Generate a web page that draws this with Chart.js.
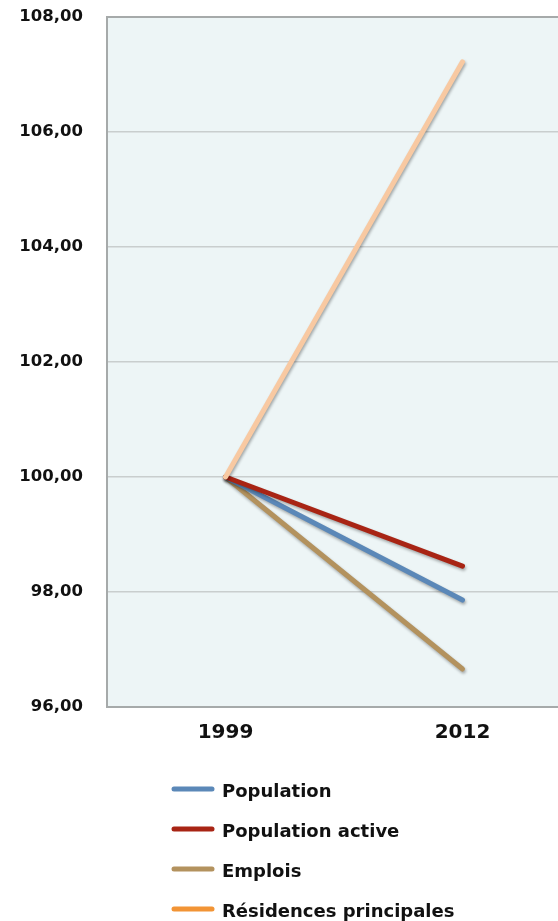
<!DOCTYPE html>
<html>
<head>
<meta charset="utf-8">
<script src="https://cdn.jsdelivr.net/npm/chart.js@4"></script>
<style>
  html, body { margin: 0; padding: 0; background: #ffffff; overflow: hidden; }
  #wrap { width: 558px; height: 921px; overflow: hidden; position: relative; }
  canvas { display: block; }
</style>
</head>
<body>
<div id="wrap"><canvas id="c" width="590" height="921"></canvas></div>
<script>
// ---- data ----
const categories = ['1999', '2012'];
const seriesNames = ['Population', 'Population active', 'Emplois', 'Résidences principales'];
const population = [100, 97.86];
const populationActive = [100, 98.45];
const emplois = [100, 96.66];
const residences = [100, 107.22];
const yMin = 96, yMax = 108, yStep = 2;

// ---- styles ----
const lineColors = ['#5b88b8', '#a82414', '#b3925e', '#f8c9a2'];
const legendColors = ['#5b88b8', '#a82414', '#b3925e', '#f29435'];
const FONT = "'DejaVu Sans', sans-serif";

const bgPlugin = {
  id: 'plotBg',
  beforeDraw(chart) {
    const { ctx, chartArea: a } = chart;
    ctx.save();
    ctx.fillStyle = '#edf5f6';
    ctx.fillRect(a.left, a.top, a.right - a.left, a.bottom - a.top);
    ctx.restore();
  },
  beforeDatasetsDraw(chart) {
    const { ctx, chartArea: a } = chart;
    ctx.save();
    ctx.strokeStyle = '#a6aaaa';
    ctx.lineWidth = 2;
    ctx.strokeRect(a.left, a.top, a.right - a.left, a.bottom - a.top);
    ctx.restore();
  }
};

const shadowPlugin = {
  id: 'lineShadow',
  beforeDatasetDraw(chart) {
    const ctx = chart.ctx;
    ctx.save();
    ctx.shadowColor = 'rgba(0,0,0,0.32)';
    ctx.shadowBlur = 3;
    ctx.shadowOffsetX = 1;
    ctx.shadowOffsetY = 2;
  },
  afterDatasetDraw(chart) {
    chart.ctx.restore();
  }
};

const legendPlugin = {
  id: 'vertLegend',
  afterDraw(chart) {
    const ctx = chart.ctx;
    const x0 = 174, x1 = 212, tx = 222, y0 = 789, dy = 40;
    ctx.save();
    chart.data.datasets.forEach((ds, i) => {
      const y = y0 + i * dy;
      ctx.strokeStyle = legendColors[i];
      ctx.lineWidth = 5;
      ctx.lineCap = 'round';
      ctx.beginPath();
      ctx.moveTo(x0, y);
      ctx.lineTo(x1, y);
      ctx.stroke();
      ctx.fillStyle = '#111111';
      ctx.font = 'bold 18px ' + FONT;
      ctx.textBaseline = 'alphabetic';
      ctx.textAlign = 'left';
      ctx.fillText(ds.label, tx, y + 8);
    });
    ctx.restore();
  }
};

const mk = (label, data, i, order) => ({
  label, data,
  borderColor: lineColors[i],
  backgroundColor: lineColors[i],
  borderWidth: 5,
  borderCapStyle: 'round',
  borderJoinStyle: 'round',
  pointRadius: 0,
  tension: 0,
  fill: false,
  order
});

new Chart(document.getElementById('c'), {
  type: 'line',
  data: {
    labels: categories,
    datasets: [
      mk(seriesNames[0], population, 0, 2),
      mk(seriesNames[1], populationActive, 1, 1),
      mk(seriesNames[2], emplois, 2, 3),
      mk(seriesNames[3], residences, 3, 0)
    ]
  },
  options: {
    responsive: false,
    animation: false,
    devicePixelRatio: 1,
    layout: { padding: { top: 17, right: 9, bottom: 0, left: 0 } },
    plugins: { legend: { display: false }, tooltip: { enabled: false }, title: { display: false } },
    scales: {
      x: {
        offset: true,
        grid: { display: false, drawTicks: false },
        border: { display: false },
        ticks: { color: '#111111', font: { family: FONT, size: 20, weight: 'bold' }, padding: 14, maxRotation: 0 },
        afterFit(s) { s.height = 214; }
      },
      y: {
        min: yMin, max: yMax,
        grid: { color: '#c9cece', lineWidth: 1.5, drawTicks: false },
        border: { display: false },
        ticks: {
          stepSize: yStep,
          color: '#111111',
          font: { family: FONT, size: 16.5, weight: 'bold' },
          padding: 24,
          callback: v => v.toFixed(2).replace('.', ',')
        },
        afterFit(s) { s.width = 107; s.paddingTop = 0; s.paddingBottom = 0; }
      }
    }
  },
  plugins: [bgPlugin, shadowPlugin, legendPlugin]
});
</script>
</body>
</html>
